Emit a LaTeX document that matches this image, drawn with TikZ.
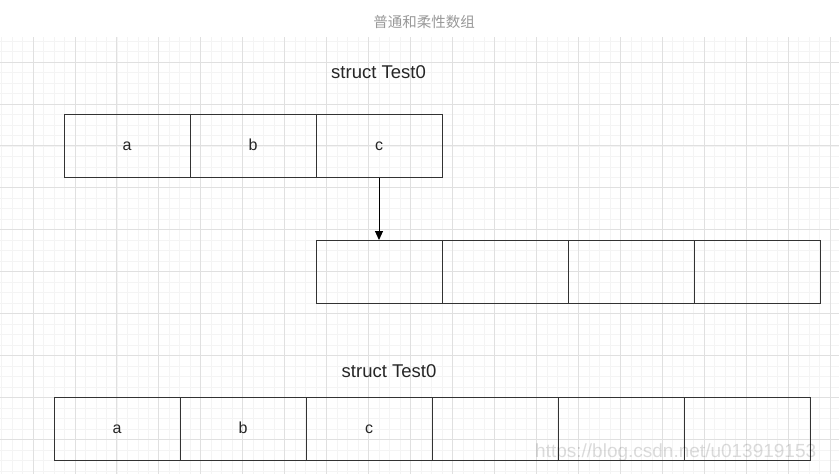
\documentclass[tikz,border=0pt]{standalone}
\usepackage{fontspec}
\setmainfont{Liberation Sans}
\newfontfamily\cjk{Noto Sans CJK SC}
\usetikzlibrary{arrows.meta}
\definecolor{gridminor}{HTML}{F4F4F4}
\definecolor{gridmajor}{HTML}{E0E0E0}
\definecolor{boxline}{HTML}{333333}
\definecolor{titlegray}{HTML}{999999}
\begin{document}
\begin{tikzpicture}[x=1pt,y=-1pt,
  cell/.style={draw=boxline,line width=1pt,minimum width=126pt,minimum height=63pt,
    inner sep=0pt,outer sep=0pt,text height=8.6pt,text depth=0pt,
    font=\fontsize{16}{19}\selectfont,text=black!85},
  structlabel/.style={font=\fontsize{18.5}{22}\selectfont,text=black!85,inner sep=0pt},
  titlelabel/.style={font=\cjk\fontsize{14.5}{17}\selectfont,text=titlegray,inner sep=0pt},
  watermark/.style={font=\fontsize{19}{22}\selectfont,text=black,text opacity=0.14,inner sep=0pt,anchor=base west},
  minorline/.style={draw=gridminor,line width=0.8pt},
  majorline/.style={draw=gridmajor,line width=0.9pt},
  pointer/.style={draw=black,line width=1pt,-{Triangle[length=9pt,width=8pt]}}]
\fill[white] (0,0) rectangle (839,474);
\useasboundingbox (0,0) rectangle (839,474);
\begin{scope}
  \clip (0,37) rectangle (839,474);
  \foreach \k in {-3,...,77} {\draw[minorline] ({33+10.49*\k},37) -- ({33+10.49*\k},474);}
  \foreach \k in {-2,...,40} {\draw[minorline] (0,{62+10.49*\k}) -- (839,{62+10.49*\k});}
  \foreach \k in {0,...,19} {\draw[majorline] ({33+41.96*\k},37) -- ({33+41.96*\k},474);}
  \foreach \k in {0,...,10} {\draw[majorline] (0,{62+41.96*\k}) -- (839,{62+41.96*\k});}
\end{scope}

\node[titlelabel] (title) at (424,22) {普通和柔性数组};

\node[structlabel] (s1) at (378.5,72) {struct Test0};
\node[cell] (a1) at (127,146) {a};
\node[cell] (b1) at (253,146) {b};
\node[cell] (c1) at (379,146) {c};

\node[cell] (m1) at (379,271.5) {};
\node[cell] (m2) at (505,271.5) {};
\node[cell] (m3) at (631,271.5) {};
\node[cell] (m4) at (757,271.5) {};

\draw[pointer] (c1.south) -- (m1.north);

\node[structlabel] (s2) at (389,371) {struct Test0};
\node[cell] (a2) at (117,429) {a};
\node[cell] (b2) at (243,429) {b};
\node[cell] (c2) at (369,429) {c};
\node[cell] (d2) at (495,429) {};
\node[cell] (e2) at (621,429) {};
\node[cell] (f2) at (747,429) {};

\node[watermark] (wm) at (535,457) {https://blog.csdn.net/u013919153};
\end{tikzpicture}
\end{document}
